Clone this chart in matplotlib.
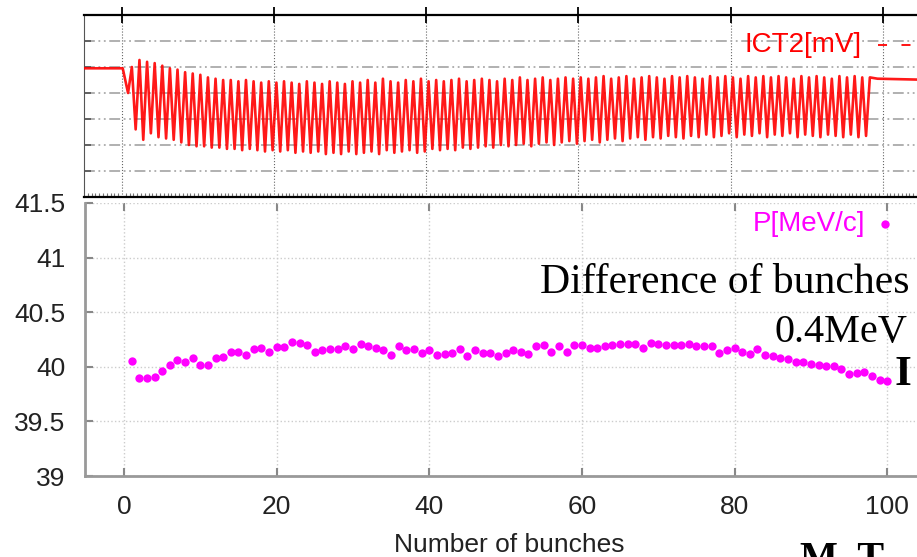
"""ICT2 signal and momentum per bunch: two stacked panels."""

import matplotlib.pyplot as plt
import numpy as np
from matplotlib.lines import Line2D
from matplotlib.patches import Rectangle
from matplotlib.ticker import MultipleLocator

plt.rcParams["font.family"] = ["Liberation Sans", "DejaVu Sans"]

W, H = 917, 557

# ICT2 trace (arbitrary vertical units, top panel has no labels)
ict_lead_x = [-6.0, 0.1, 0.8, 1.3, 1.8]
ict_lead_v = [4.95, 4.95, 4.0, 5.0, 2.6]
ict_peaks = [
    5.27, 5.2, 5.15, 5.05, 4.95, 4.9, 4.8, 4.75, 4.7, 4.6,
    4.55, 4.5, 4.5, 4.45, 4.5, 4.45, 4.4, 4.45, 4.4, 4.45,
    4.4, 4.35, 4.45, 4.4, 4.35, 4.45, 4.4, 4.35, 4.45, 4.4,
    4.5, 4.4, 4.55, 4.45, 4.4, 4.5, 4.45, 4.55, 4.45, 4.5,
    4.45, 4.5, 4.55, 4.45, 4.5, 4.55, 4.5, 4.45, 4.55, 4.5,
    4.6, 4.5, 4.55, 4.6, 4.5, 4.55, 4.6, 4.55, 4.6, 4.55,
    4.6, 4.65, 4.55, 4.6, 4.65, 4.55, 4.6, 4.65, 4.6, 4.55,
    4.65, 4.6, 4.65, 4.6, 4.55, 4.65, 4.6, 4.65, 4.6, 4.55,
    4.65, 4.6, 4.65, 4.6, 4.65, 4.6, 4.55, 4.65, 4.6, 4.65,
    4.6, 4.55, 4.65, 4.6, 4.65, 4.6, 4.6,
]  # bunches 2..98
ict_troughs = [
    2.2, 2.45, 2.3, 2.25, 2.2, 2.1, 2.0, 1.95, 1.95, 1.9,
    1.9, 1.85, 1.85, 1.8, 1.85, 1.8, 1.75, 1.8, 1.75, 1.8,
    1.7, 1.75, 1.7, 1.75, 1.65, 1.7, 1.65, 1.75, 1.65, 1.7,
    1.75, 1.65, 1.8, 1.7, 1.75, 1.8, 1.7, 1.75, 1.85, 1.8,
    1.85, 1.8, 1.9, 1.85, 1.9, 1.95, 1.9, 2.0, 1.95, 2.0,
    2.05, 1.95, 2.05, 2.1, 2.0, 2.1, 2.15, 2.05, 2.15, 2.2,
    2.1, 2.2, 2.25, 2.15, 2.25, 2.3, 2.2, 2.3, 2.25, 2.35,
    2.3, 2.25, 2.35, 2.3, 2.4, 2.3, 2.35, 2.45, 2.3, 2.4,
    2.35, 2.45, 2.3, 2.4, 2.35, 2.45, 2.3, 2.4, 2.35, 2.3,
    2.4, 2.35, 2.3, 2.4, 2.3, 2.35,
]  # bunches 2..97
ict_tail_x = [99.3, 107.0]
ict_tail_v = [4.55, 4.5]

# momentum per bunch
bunches = list(range(1, 101))
p_mev = [
    40.05, 39.90, 39.90, 39.91, 39.96, 40.02, 40.06, 40.04, 40.08, 40.02,
    40.02, 40.08, 40.09, 40.14, 40.14, 40.11, 40.16, 40.17, 40.14, 40.18,
    40.18, 40.23, 40.22, 40.20, 40.14, 40.15, 40.16, 40.16, 40.19, 40.16,
    40.21, 40.19, 40.17, 40.15, 40.11, 40.19, 40.15, 40.16, 40.13, 40.15,
    40.11, 40.12, 40.13, 40.16, 40.10, 40.15, 40.13, 40.13, 40.10, 40.13,
    40.15, 40.14, 40.12, 40.19, 40.20, 40.14, 40.19, 40.14, 40.20, 40.20,
    40.17, 40.17, 40.19, 40.20, 40.21, 40.21, 40.21, 40.17, 40.22, 40.21,
    40.20, 40.20, 40.20, 40.21, 40.19, 40.19, 40.19, 40.13, 40.15, 40.17,
    40.14, 40.12, 40.16, 40.11, 40.10, 40.08, 40.07, 40.04, 40.04, 40.03,
    40.02, 40.01, 40.01, 39.98, 39.93, 39.94, 39.95, 39.92, 39.88, 39.87,
]

x_ticks = [0, 20, 40, 60, 80, 100]
y_ticks = [39, 39.5, 40, 40.5, 41, 41.5]
y_labels = ["39", "39.5", "40", "40.5", "41", "41.5"]


def fx(px):
    return px / W


def fy(py):
    return 1 - py / H


# zigzag: peak at k+0.3, trough at k+0.8
k_peak = np.arange(2, 2 + len(ict_peaks))
k_trough = np.arange(2, 2 + len(ict_troughs))
zx = np.empty(len(ict_peaks) + len(ict_troughs))
zv = np.empty_like(zx)
zx[0::2] = k_peak + 0.3
zv[0::2] = ict_peaks
zx[1::2] = k_trough + 0.8
zv[1::2] = ict_troughs
trace_x = np.concatenate([ict_lead_x, zx, ict_tail_x])
trace_v = np.concatenate([ict_lead_v, zv, ict_tail_v])

fig = plt.figure(figsize=(W / 100, H / 100), dpi=100)

# ---- top panel: ICT2 ----
ax1 = fig.add_axes([fx(84), fy(197), fx(933) - fx(84), fy(15) - fy(197)])
ax1.plot(trace_x, trace_v, color="#ff0000", lw=1.9, alpha=0.9, zorder=3)
ax1.set_xlim(-4.99, 106.6)
ax1.set_ylim(0, 7)
ax1.set_xticks(x_ticks)
ax1.set_yticks([1, 2, 3, 4, 5, 6])
ax1.xaxis.set_minor_locator(MultipleLocator(0.5))
ax1.grid(True, axis="y", color="#aaaaaa", lw=1.3, ls=(0, (6, 2, 1, 2, 1, 2)))
ax1.grid(True, axis="x", color="#666666", lw=0.8, ls=":")
ax1.tick_params(axis="x", which="major", top=True, bottom=False, direction="inout",
                length=12, width=1.3, labeltop=False, labelbottom=False)
ax1.tick_params(axis="x", which="minor", top=False, bottom=True, direction="in",
                length=3, width=0.8, color="#777777")
ax1.tick_params(axis="y", left=True, direction="in", length=5, width=1.2,
                color="#555555", labelleft=False)
for side in ("top", "bottom"):
    ax1.spines[side].set_linewidth(1.6)
ax1.spines["left"].set_color("#555555")
ax1.add_patch(Rectangle((fx(708), fy(60)), fx(917) - fx(708), fy(28) - fy(60),
                        transform=fig.transFigure, fc="white", ec="none", zorder=1.5))
fig.text(fx(862), fy(45), "ICT2[mV]", ha="right", va="center", color="#ff0000",
         fontsize=20)
fig.add_artist(Line2D([fx(878), fx(930)], [fy(45), fy(45)], color="#ff0000",
                      lw=1.3, ls=(0, (5, 8))))

# ---- bottom panel: momentum ----
ax2 = fig.add_axes([fx(85), fy(476), fx(933) - fx(85), fy(203) - fy(476)])
ax2.plot(bunches, p_mev, "o", color="#ff00ff", ms=6, mec="none", zorder=3)
ax2.set_xlim(-5.11, 106.0)
ax2.set_ylim(39, 41.5)
ax2.set_xticks(x_ticks)
ax2.set_yticks(y_ticks)
ax2.set_yticklabels(y_labels)
ax2.grid(True, color="#cccccc", lw=1.0, ls=":")
ax2.tick_params(axis="x", top=True, bottom=True, direction="in", length=6,
                width=1.5, color="#888888", labelsize=19, labelcolor="#222222",
                pad=14)
ax2.tick_params(axis="y", left=True, direction="in", length=6, width=1.5,
                color="#888888", labelsize=19, labelcolor="#222222", pad=14)
ax2.spines["top"].set_visible(False)
for side in ("left", "bottom"):
    ax2.spines[side].set_color("#999999")
    ax2.spines[side].set_linewidth(2)
ax2.set_xlabel("Number of bunches", fontsize=19, color="#222222", labelpad=10)

fig.text(fx(865), fy(224), "P[MeV/c]", ha="right", va="center", color="#ff00ff",
         fontsize=20)
fig.add_artist(Line2D([fx(885)], [fy(224)], marker="o", color="#ff00ff", ms=6,
                      mec="none", ls="none"))

# slide annotations over the chart
serif = ["Liberation Serif", "DejaVu Serif"]
fig.text(fx(910), fy(293), "Difference of bunches", ha="right", va="baseline",
         fontsize=30, family=serif, color="black")
fig.text(fx(907), fy(342), "0.4MeV", ha="right", va="baseline", fontsize=29,
         family=serif, color="black")
fig.text(fx(895), fy(385), "I", ha="left", va="baseline", fontsize=31,
         family=serif, weight="bold", color="black")
fig.text(fx(800), fy(541), "M. T", ha="left", va="top", fontsize=29,
         family=serif, weight="bold", color="black")

fig.savefig("out.png", dpi=100)
